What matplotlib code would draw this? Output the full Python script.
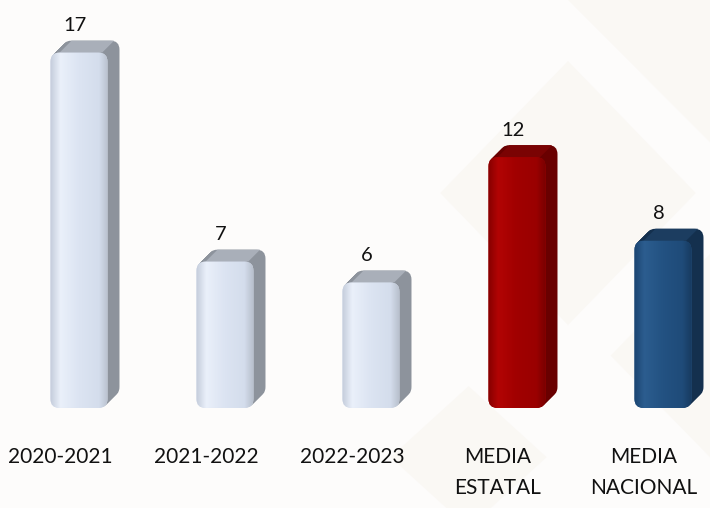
import matplotlib
matplotlib.use('Agg')
import matplotlib.pyplot as plt
import numpy as np
from matplotlib.patches import FancyBboxPatch, Polygon
from matplotlib.colors import LinearSegmentedColormap

plt.rcParams['font.family'] = ['Lato', 'DejaVu Sans']

categories = ['2020-2021', '2021-2022', '2022-2023', 'MEDIA\nESTATAL', 'MEDIA\nNACIONAL']
values = [17, 7, 6, 12, 8]
bar_kinds = ['light', 'light', 'light', 'red', 'blue']

palettes = {
    'light': dict(front=['#c3cbda', '#eaf0fa', '#dce4f2', '#d4ddec', '#b9c1ce'], side='#8d939c', top='#a9afb9'),
    'red': dict(front=['#850000', '#b20404', '#a10000', '#9a0000', '#7c0000'], side='#690000', top='#7a0303'),
    'blue': dict(front=['#1a4470', '#2c5d8f', '#235282', '#1f4b79', '#183c62'], side='#14304e', top='#1c3d60'),
}

W, H, DPI = 7.1, 5.08, 100
fig = plt.figure(figsize=(W, H), dpi=DPI)
fig.patch.set_facecolor('#fdfcfb')

# faint watermark decoration on the right
bg = fig.add_axes([0, 0, 1, 1], zorder=-5)
bg.set_xlim(0, 1); bg.set_ylim(0, 1); bg.axis('off')
for pts in [
    [(0.80, 1.0), (1.0, 0.72), (1.0, 1.0)],
    [(0.62, 0.62), (0.80, 0.88), (0.98, 0.62), (0.80, 0.36)],
    [(0.86, 0.30), (1.0, 0.50), (1.0, 0.10)],
    [(0.55, 0.10), (0.66, 0.24), (0.77, 0.10), (0.66, -0.04)],
]:
    bg.add_patch(Polygon(pts, closed=True, fc='#f5efe6', ec='none', alpha=0.3))

ax = fig.add_axes([0, 0.1969, 1, 0.8031])
xmin, xmax = -0.541, 4.322
ymax = 19.52
ax.set_xlim(xmin, xmax)
ax.set_ylim(0, ymax)
ax.axis('off')
ax.patch.set_alpha(0)

px_per_x = W * DPI / (xmax - xmin)
px_per_y = H * DPI * 0.8031 / ymax
aspect = px_per_x / px_per_y
w = 57 / px_per_x
r = 9 / px_per_x
depth = 12
dxd = depth / px_per_x
dyd = depth / px_per_y

for i, (v, kind) in enumerate(zip(values, bar_kinds)):
    pal = palettes[kind]
    x0 = i - w / 2
    x1 = i + w / 2
    nsteps = 16
    for s in range(nsteps, 0, -1):
        t = s / nsteps
        p = FancyBboxPatch((x0 + dxd * t, dyd * t), w, v,
                           boxstyle=f'round,pad=0,rounding_size={r}',
                           mutation_aspect=aspect, fc=pal['side'], ec='none', zorder=2)
        ax.add_patch(p)
    # top face
    ax.add_patch(Polygon([(x0 + r, v), (x1 - r * 0.6, v), (x1 - r * 0.6 + dxd, v + dyd),
                          (x0 + r + dxd, v + dyd)], closed=True, fc=pal['top'], ec='none', zorder=3))
    front = FancyBboxPatch((x0, 0), w, v, boxstyle=f'round,pad=0,rounding_size={r}',
                           mutation_aspect=aspect, fc=pal['front'][2], ec='none', zorder=4)
    ax.add_patch(front)
    cmap = LinearSegmentedColormap.from_list('g', list(zip([0, 0.18, 0.5, 0.85, 1.0], pal['front'])))
    grad = np.linspace(0, 1, 256).reshape(1, -1)
    im = ax.imshow(grad, cmap=cmap, extent=[x0, x1, 0, v], aspect='auto', zorder=5,
                   interpolation='bilinear')
    im.set_clip_path(front)
    ax.annotate(str(v), xy=(i, v), xytext=(-3, 15.5), textcoords='offset points',
                ha='center', va='baseline', fontsize=14.5, color='#111111', zorder=6)
    ax.annotate(categories[i], xy=(i, 0), xytext=(-13.7, -28.0), textcoords='offset points',
                ha='center', va='top', fontsize=15, color='#111111', linespacing=1.72,
                annotation_clip=False)

ax.set_xlim(xmin, xmax)
ax.set_ylim(0, ymax)
fig.savefig('out.png', dpi=DPI, facecolor=fig.get_facecolor())
